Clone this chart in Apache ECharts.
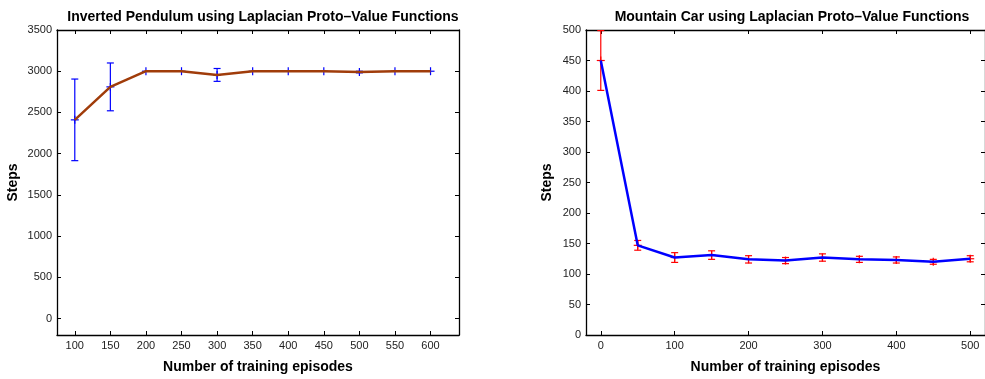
<!DOCTYPE html>
<html>
<head>
<meta charset="utf-8">
<script src="https://cdn.jsdelivr.net/npm/echarts@6/dist/echarts.min.js"></script>
<style>
  html, body { margin: 0; padding: 0; background: #fff; overflow: hidden; }
  #chart { width: 985px; height: 379px; }
</style>
</head>
<body>
<div id="chart"></div>
<script>
// Inverted pendulum (left panel)
const pendEpisodes = [100, 150, 200, 250, 300, 350, 400, 450, 500, 550, 600];
const pendSteps = [2410, 2810, 3000, 3000, 2955, 3000, 3000, 3000, 2990, 3000, 3000];
const pendErr = [495, 290, 0, 0, 78, 0, 0, 0, 10, 0, 0];
const pendXTicks = [100, 150, 200, 250, 300, 350, 400, 450, 500, 550, 600];
const pendYTicks = [0, 500, 1000, 1500, 2000, 2500, 3000, 3500];

// Mountain car (right panel)
const carEpisodes = [0, 50, 100, 150, 200, 250, 300, 350, 400, 450, 500];
const carSteps = [450, 147, 127, 131, 124, 122, 127, 124, 123, 120, 125];
const carErr = [49, 8, 8, 7, 6, 5, 6, 5, 5, 4, 5];
const carXTicks = [0, 100, 200, 300, 400, 500];
const carYTicks = [0, 50, 100, 150, 200, 250, 300, 350, 400, 450, 500];

const FONT = "Liberation Sans, Arial, Helvetica, sans-serif";
const AXIS_COLOR = "#000";

const chart = echarts.init(document.getElementById("chart"));

function errRows(xs, ys, es) {
  return xs.map((x, i) => [x, ys[i] - es[i], ys[i] + es[i], ys[i]]);
}

// error bar + plus marker, positions come from api.coord
function errRenderer(color) {
  return function (params, api) {
    const x = api.value(0);
    const lo = api.coord([x, api.value(1)]);
    const hi = api.coord([x, api.value(2)]);
    const mid = api.coord([x, api.value(3)]);
    const cap = 3.5;
    const pm = 4;
    const st = { stroke: color, lineWidth: 1.2 };
    const kids = [];
    if (Math.abs(lo[1] - hi[1]) > 1) {
      kids.push(
        { type: "line", shape: { x1: lo[0], y1: lo[1], x2: hi[0], y2: hi[1] }, style: st },
        { type: "line", shape: { x1: lo[0] - cap, y1: lo[1], x2: lo[0] + cap, y2: lo[1] }, style: st },
        { type: "line", shape: { x1: hi[0] - cap, y1: hi[1], x2: hi[0] + cap, y2: hi[1] }, style: st }
      );
    }
    kids.push(
      { type: "line", shape: { x1: mid[0] - pm, y1: mid[1], x2: mid[0] + pm, y2: mid[1] }, style: st },
      { type: "line", shape: { x1: mid[0], y1: mid[1] - pm, x2: mid[0], y2: mid[1] + pm }, style: st }
    );
    return { type: "group", children: kids };
  };
}

function boxAxes(gridIndex, xMin, xMax, yMin, yMax, xTicks, yTicks, yNameGap) {
  const line = { show: true, onZero: false, lineStyle: { color: AXIS_COLOR, width: 1.3 } };
  const tick = (vals) => ({ show: true, inside: true, length: 4, customValues: vals, lineStyle: { color: AXIS_COLOR, width: 1 } });
  const label = (vals) => ({
    show: true, customValues: vals, color: "#222", fontSize: 11, fontFamily: FONT, margin: 5,
    formatter: (v) => String(v),
  });
  const nameStyle = { fontFamily: FONT, fontWeight: "bold", fontSize: 14, color: "#000" };
  return {
    x: [
      {
        type: "value", gridIndex, min: xMin, max: xMax, position: "bottom",
        axisLine: line, axisTick: tick(xTicks), axisLabel: label(xTicks), splitLine: { show: false },
        name: "Number of training episodes", nameLocation: "middle", nameGap: 25,
        nameTextStyle: nameStyle,
      },
      {
        type: "value", gridIndex, min: xMin, max: xMax, position: "top",
        axisLine: line, axisTick: tick(xTicks), axisLabel: { show: false }, splitLine: { show: false },
      },
    ],
    y: [
      {
        type: "value", gridIndex, min: yMin, max: yMax, position: "left",
        axisLine: line, axisTick: tick(yTicks), axisLabel: label(yTicks), splitLine: { show: false },
        name: "Steps", nameLocation: "middle", nameGap: yNameGap, nameRotate: 90,
        nameTextStyle: nameStyle,
      },
      {
        type: "value", gridIndex, min: yMin, max: yMax, position: "right",
        axisLine: line, axisTick: tick(yTicks), axisLabel: { show: false }, splitLine: { show: false },
      },
    ],
  };
}

const left = boxAxes(0, 75, 640, -200, 3500, pendXTicks, pendYTicks, 37);
const right = boxAxes(1, -20, 520, 0, 500, carXTicks, carYTicks, 32);

chart.setOption({
  animation: false,
  backgroundColor: "#fff",
  title: [
    {
      text: "Inverted Pendulum using Laplacian Proto\u2013Value Functions",
      left: 258, top: 5, textAlign: "center",
      textStyle: { fontFamily: FONT, fontWeight: "bold", fontSize: 14, color: "#000" },
    },
    {
      text: "Mountain Car using Laplacian Proto\u2013Value Functions",
      left: 787, top: 5, textAlign: "center",
      textStyle: { fontFamily: FONT, fontWeight: "bold", fontSize: 14, color: "#000" },
    },
  ],
  grid: [
    { left: 57, right: 526, top: 30, bottom: 37 },
    { left: 586, right: -3, top: 30, bottom: 37 },
  ],
  xAxis: [...left.x, ...right.x],
  yAxis: [...left.y, ...right.y],
  series: [
    {
      type: "line", xAxisIndex: 0, yAxisIndex: 0,
      data: pendEpisodes.map((x, i) => [x, pendSteps[i]]),
      showSymbol: false, lineStyle: { color: "#a03c0a", width: 2.5 },
    },
    {
      type: "custom", xAxisIndex: 0, yAxisIndex: 0,
      data: errRows(pendEpisodes, pendSteps, pendErr),
      renderItem: errRenderer("#0000ff"),
    },
    {
      type: "line", xAxisIndex: 2, yAxisIndex: 2,
      data: carEpisodes.map((x, i) => [x, carSteps[i]]),
      showSymbol: false, lineStyle: { color: "#0000ff", width: 2.5 },
    },
    {
      type: "custom", xAxisIndex: 2, yAxisIndex: 2,
      data: errRows(carEpisodes, carSteps, carErr),
      renderItem: errRenderer("#ff0000"),
    },
  ],
});
</script>
</body>
</html>
